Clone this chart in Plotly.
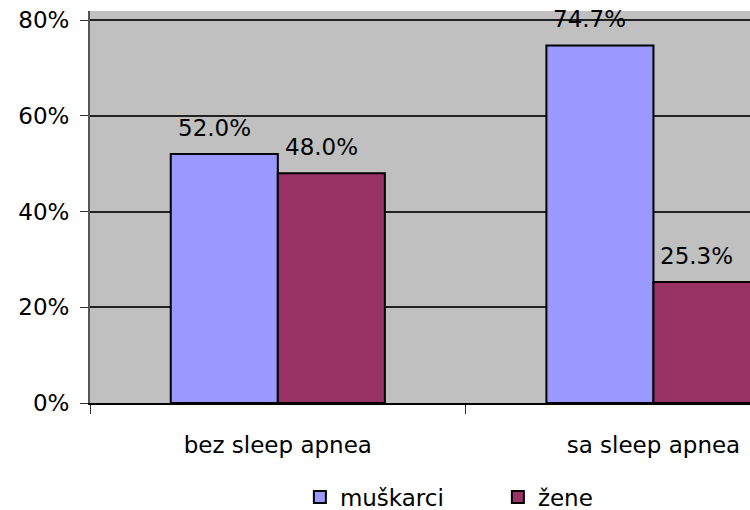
import plotly.graph_objects as go

categories = ["bez sleep apnea", "sa sleep apnea"]
muskarci = [52.0, 74.7]
zene = [48.0, 25.3]
y_ticks = [0, 20, 40, 60, 80]
y_tick_text = ["0%", "20%", "40%", "60%", "80%"]

W, H = 750, 510
margin = dict(l=90, r=0, t=11, b=107, autoexpand=False)
x_range = [-0.5, 1.257]
bargap = 0.43

font = dict(family="DejaVu Sans, Arial, sans-serif", size=23, color="black")

fig = go.Figure()
fig.add_trace(go.Bar(name="muškarci", x=categories, y=muskarci,
                     marker=dict(color="#9999FF", line=dict(color="black", width=2))))
fig.add_trace(go.Bar(name="žene", x=categories, y=zene,
                     marker=dict(color="#993366", line=dict(color="black", width=2))))

# value labels above the bars
cat_px = (W - margin["l"] - margin["r"]) / (x_range[1] - x_range[0])
bar_px = cat_px * (1 - bargap) / 2
for vals, side in [(muskarci, -1), (zene, 1)]:
    for c, v in zip(categories, vals):
        fig.add_annotation(x=c, y=v, text=f"{v:.1f}%", showarrow=False,
                           xanchor="center", yanchor="bottom",
                           xshift=side * bar_px / 2 - 10, yshift=11,
                           font=font)

fig.update_layout(
    width=W, height=H, margin=margin,
    paper_bgcolor="white", plot_bgcolor="#C0C0C0",
    font=font, barmode="group", bargap=bargap, bargroupgap=0,
    showlegend=True,
    legend=dict(orientation="h", x=0.318, xanchor="left", y=-0.24, yanchor="middle",
                entrywidth=153, entrywidthmode="pixels", font=font,
                bgcolor="rgba(0,0,0,0)"),
)
fig.update_xaxes(type="category", range=x_range, showgrid=False,
                 showline=True, linecolor="black", linewidth=2,
                 ticks="outside", tickson="boundaries", ticklen=9, tickwidth=1,
                 tickcolor="#333", ticklabelstandoff=20)
fig.update_yaxes(range=[0, 81.9], tickvals=y_ticks, ticktext=y_tick_text,
                 showgrid=True, gridcolor="#222", gridwidth=1.5,
                 showline=True, linecolor="#555", linewidth=2,
                 ticks="outside", ticklen=8, tickcolor="#333",
                 ticklabelstandoff=6, zeroline=False)

fig.write_html("out.html", config={"displayModeBar": False},
               post_script="document.body.style.margin='0';")
